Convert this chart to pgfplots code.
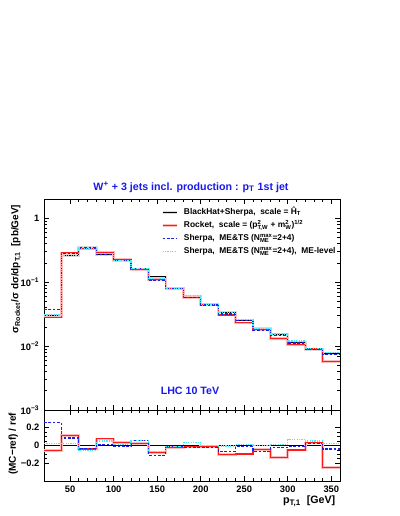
\documentclass[border=0pt]{standalone}
\usepackage{fontspec}
\setmainfont{Liberation Sans}
\usepackage{pgfplots}
\usepackage{pgfplotstable}
\pgfplotsset{compat=1.18}
\definecolor{rootred}{RGB}{255,25,25}
\definecolor{rootblue}{RGB}{30,30,235}
\definecolor{rootcyan}{RGB}{70,235,245}
\definecolor{titleblue}{RGB}{25,25,235}

% p_T of the 1st jet, bins of 20 GeV (left edges), last row repeats the last bin
\pgfplotstableread{
x    bh     rk     sh     me
20   0.0300 0.0284 0.0378 0.0306
40   0.259  0.2875 0.2810 0.2642
60   0.352  0.3379 0.3414 0.3309
80   0.268  0.2881 0.2720 0.2814
100  0.218  0.2254 0.2158 0.2213
120  0.156  0.1591 0.1654 0.1646
140  0.121  0.1113 0.1077 0.1131
160  0.0806 0.0790 0.0794 0.0798
180  0.0591 0.0582 0.0579 0.0612
200  0.0449 0.0445 0.0440 0.0449
220  0.0340 0.0306 0.0318 0.0338
240  0.0255 0.0231 0.0252 0.0258
260  0.0189 0.0180 0.0177 0.0189
280  0.0152 0.0131 0.0148 0.0154
300  0.0113 0.0107 0.0112 0.0120
320  0.0087 0.0090 0.0089 0.0091
340  0.0077 0.0058 0.0074 0.0079
360  0.0077 0.0058 0.0074 0.0079
}\maintab

% (MC-ref)/ref, ref = BlackHat+Sherpa
\pgfplotstableread{
x    rk     sh     me
20   -0.055 0.26   0.02
40   0.11   0.085  0.02
60   -0.04  -0.03  -0.06
80   0.075  0.015  0.05
100  0.034  -0.01  0.015
120  0.02   0.06   0.055
140  -0.08  -0.11  -0.065
160  -0.02  -0.015 -0.01
180  -0.015 -0.02  0.035
200  -0.008 -0.02  0.0
220  -0.10  -0.065 -0.005
240  -0.095 -0.01  0.01
260  -0.045 -0.065 0.0
280  -0.135 -0.025 0.01
300  -0.05  -0.01  0.065
320  0.03   0.02   0.05
340  -0.245 -0.04  0.02
360  -0.245 -0.04  0.02
}\ratiotab

\pgfplotsset{
  rootaxis/.style={
    scale only axis, width=222pt,
    xmin=20, xmax=360,
    xtick={50,100,...,350}, minor x tick num=4,
    major tick length=4pt, minor tick length=2pt,
    axis line style={line width=0.7pt},
    tick style={black, line width=0.5pt},
    ticklabel style={font=\fontsize{7}{8}\selectfont\bfseries},
    /pgf/number format/assume math mode=true,
  },
  bhstyle/.style={const plot, black, line width=0.8pt, no marks},
  rkstyle/.style={const plot, rootred, line width=0.9pt, no marks,
    preaction={draw=rootred!30, line width=2pt}},
  shstyle/.style={const plot, rootblue, line width=0.9pt, no marks,
    dash pattern=on 2pt off 1.3pt},
  mestyle/.style={const plot, rootcyan, line width=0.9pt, no marks,
    dash pattern=on 0.9pt off 0.9pt},
}

\begin{document}
\begin{tikzpicture}
\useasboundingbox (0,0) rectangle (299.25pt,-387pt);

\begin{axis}[rootaxis,
  at={(33pt,-149.25pt)}, anchor=north west, height=158.25pt,
  ymode=log, ymin=0.001, ymax=2,
  xticklabels={},
  ytick={0.001,0.01,0.1,1},
  yticklabels={10\textsuperscript{−3},10\textsuperscript{−2},10\textsuperscript{−1},1},
  legend cell align=left,
  legend style={at={(0.395,0.96)}, anchor=north west, draw=none, fill=none,
    font=\fontsize{6.3}{7}\selectfont\bfseries, row sep=2.8pt,
    inner sep=0pt,
    nodes={inner sep=0.6pt, text height=4.6pt, text depth=1.2pt},
    /tikz/every odd column/.append style={column sep=4pt}},
  legend image code/.code={\draw[#1] (0pt,0pt) -- (10.5pt,0pt);},
]
\addplot[bhstyle, preaction={draw=gray!30, line width=2pt}] table[x=x, y=bh] {\maintab};
\addlegendentry{BlackHat+Sherpa,\ \ scale = Ĥ\textsubscript{T}}
\addplot[rkstyle] table[x=x, y=rk] {\maintab};
\addlegendentry{Rocket,\ \ scale = (p\rlap{\textsuperscript{2}}\textsubscript{T,W} + m\rlap{\textsuperscript{2}}\textsubscript{W})\textsuperscript{1/2}}
\addplot[shstyle] table[x=x, y=sh] {\maintab};
\addlegendentry{Sherpa,\ \ ME\&TS (N\rlap{\textsubscript{ME}}\textsuperscript{max}=2+4)}
\addplot[mestyle] table[x=x, y=me] {\maintab};
\addlegendentry{Sherpa,\ \ ME\&TS (N\rlap{\textsubscript{ME}}\textsuperscript{max}=2+4),\ \ ME-level}
\end{axis}

\begin{axis}[rootaxis,
  at={(33pt,-307.5pt)}, anchor=north west, height=53.25pt,
  ymin=-0.4, ymax=0.4,
  ytick={-0.2,0,0.2}, yticklabels={−0.2,0,0.2},
  minor y tick num=3,
  xticklabels={50,100,150,200,250,300,350},
]
\addplot[bhstyle] coordinates {(20,0) (360,0)};
\addplot[rkstyle] table[x=x, y=rk] {\ratiotab};
\addplot[shstyle] table[x=x, y=sh] {\ratiotab};
\addplot[mestyle] table[x=x, y=me] {\ratiotab};
\end{axis}

\node[font=\fontsize{8}{9}\selectfont\bfseries, text=titleblue] at (143.25pt,-140.25pt)
  {W\textsuperscript{+} + 3 jets incl. production : p\textsubscript{T} 1st jet};
\node[font=\fontsize{8}{9}\selectfont\bfseries, text=titleblue] at (142.5pt,-293pt)
  {LHC 10 TeV};
\node[rotate=90, anchor=east, font=\fontsize{7.5}{8}\selectfont\bfseries] at (12pt,-150pt)
  {σ\textsubscript{Rocket}/σ dσ/dp\textsubscript{T,1}\ \ [pb/GeV]};
\node[rotate=90, anchor=east, font=\fontsize{7.5}{8}\selectfont\bfseries] at (10pt,-306pt)
  {(MC−ref) / ref};
\node[anchor=east, font=\fontsize{8}{9}\selectfont\bfseries] at (255pt,-376pt)
  {p\textsubscript{T,1}\ \ [GeV]};
\end{tikzpicture}
\end{document}
